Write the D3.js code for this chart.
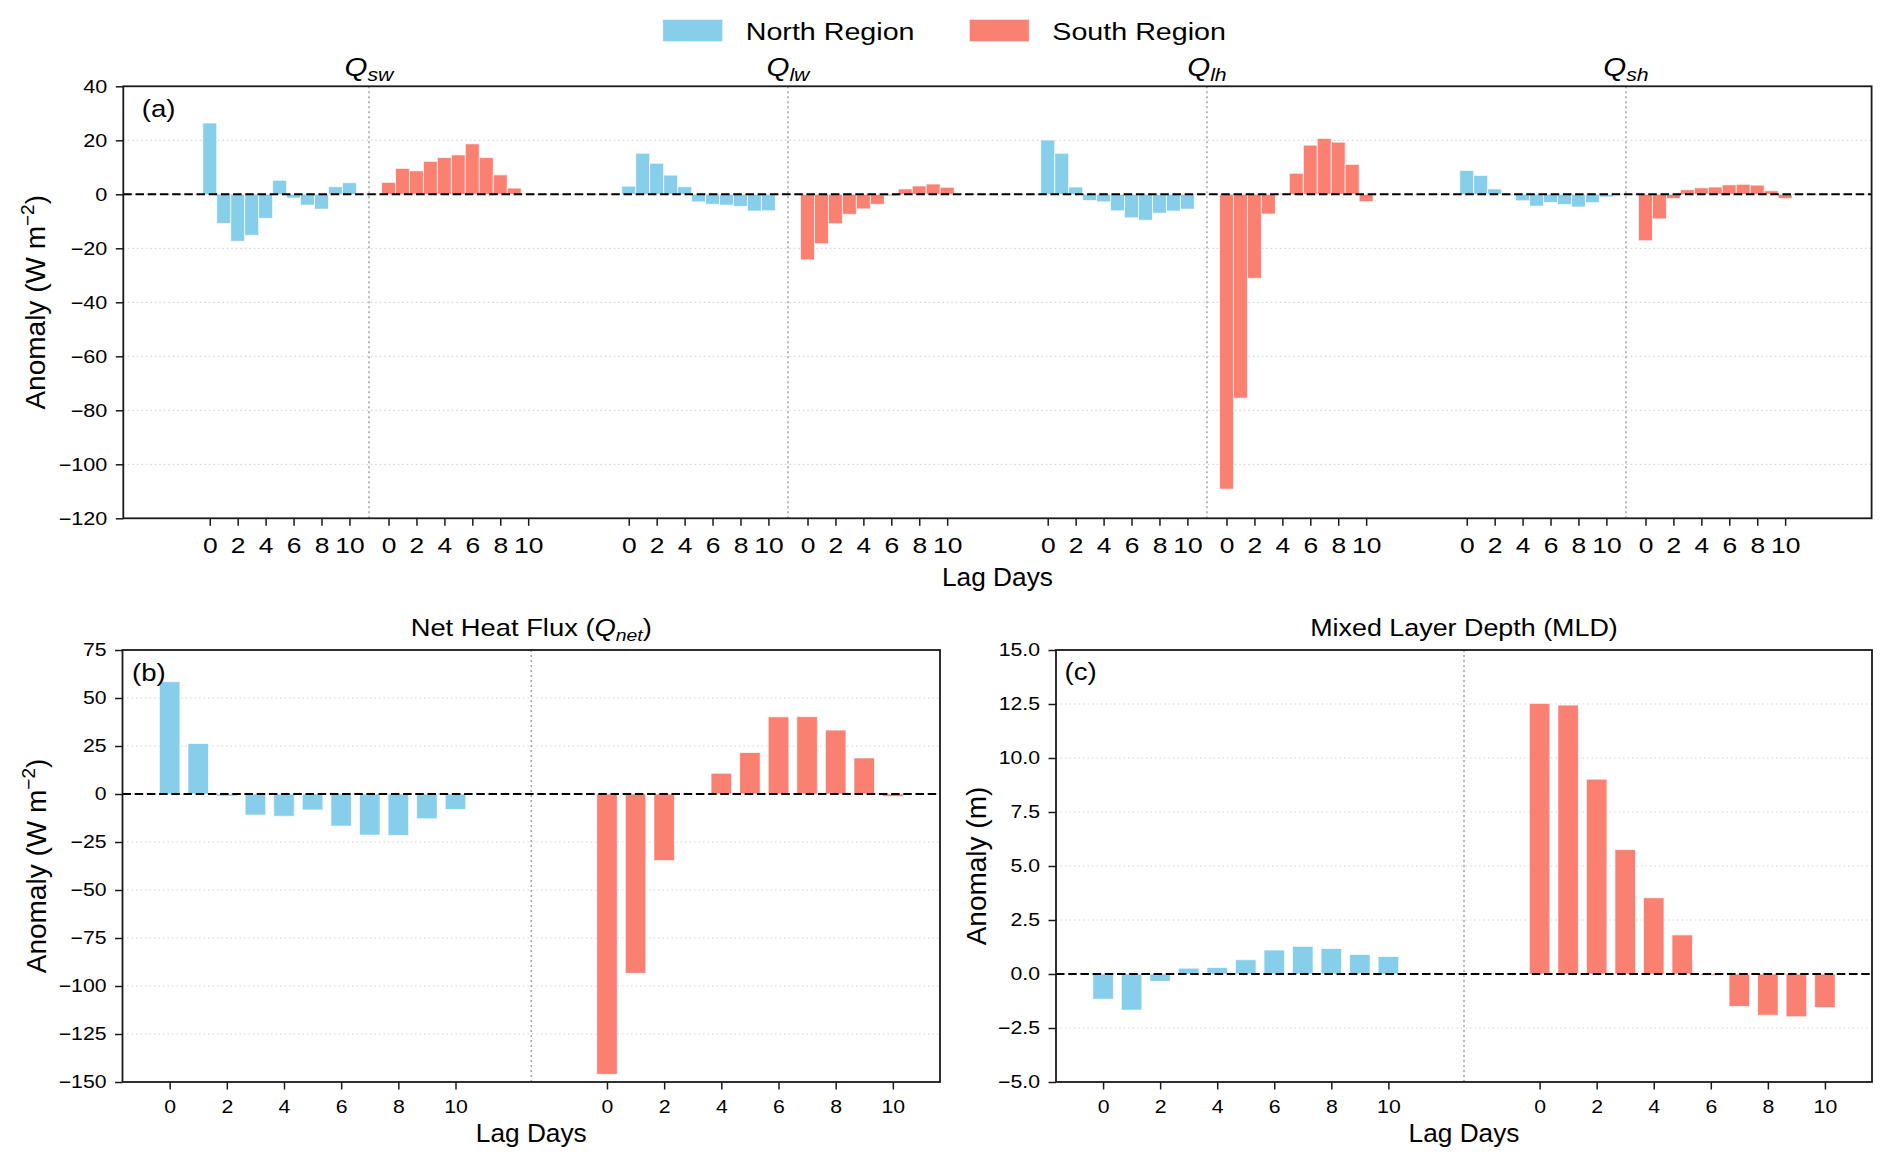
<!DOCTYPE html>
<html>
<head>
<meta charset="utf-8">
<script src="https://cdn.jsdelivr.net/npm/d3@7"></script>
<style>
  body { margin: 0; background: #fff; }
  svg { display: block; font-family: "Liberation Sans", Arial, sans-serif; }
</style>
</head>
<body>
<div id="chart"></div>
<script>
// lag days (same for every series)
var lags = [0, 1, 2, 3, 4, 5, 6, 7, 8, 9, 10];
var lagTicks = [0, 2, 4, 6, 8, 10];

// (a) heat flux components, W m-2
var fluxNames = ["sw", "lw", "lh", "sh"];
var qswNorth = [26.4, -10.8, -17.4, -15.2, -8.9, 5.2, -1.4, -4.0, -5.5, 2.8, 4.3];
var qswSouth = [4.4, 9.6, 8.7, 12.2, 13.6, 14.6, 18.7, 13.6, 7.2, 2.3, 0.3];
var qlwNorth = [3.0, 15.2, 11.5, 7.1, 2.8, -2.8, -3.7, -4.0, -4.5, -6.2, -6.1];
var qlwSouth = [-24.3, -18.3, -10.9, -7.4, -5.4, -3.7, -0.6, 2.0, 3.1, 3.8, 2.6];
var qlhNorth = [20.1, 15.2, 2.7, -2.3, -2.8, -6.1, -8.7, -9.6, -7.0, -6.2, -5.5];
var qlhSouth = [-109.2, -75.5, -31.1, -7.3, 0.4, 7.8, 18.2, 20.7, 19.3, 11.1, -2.7];
var qshNorth = [8.8, 7.0, 2.0, -0.4, -2.4, -4.4, -3.0, -3.8, -4.7, -3.1, -1.0];
var qshSouth = [-17.2, -9.1, -1.6, 1.7, 2.4, 2.7, 3.5, 3.7, 3.4, 1.3, -1.6];

// (b) net heat flux, W m-2
var qnetNorth = [58.5, 26.3, -1.1, -11.0, -11.6, -8.3, -16.7, -21.4, -21.6, -12.9, -8.1];
var qnetSouth = [-146.0, -93.4, -34.7, -0.3, 10.8, 21.6, 40.2, 40.3, 33.3, 18.8, -1.3];

// (c) mixed layer depth, m
var mldNorth = [-1.17, -1.67, -0.34, 0.27, 0.30, 0.66, 1.11, 1.28, 1.18, 0.90, 0.81];
var mldSouth = [12.53, 12.45, 9.02, 5.76, 3.53, 1.81, -0.07, -1.50, -1.91, -1.98, -1.55];

var fluxYTicks = [-120, -100, -80, -60, -40, -20, 0, 20, 40];
var netYTicks = [-150, -125, -100, -75, -50, -25, 0, 25, 50, 75];
var mldYTicks = [-5, -2.5, 0, 2.5, 5, 7.5, 10, 12.5, 15];

var fluxNorth = [qswNorth, qlwNorth, qlhNorth, qshNorth];
var fluxSouth = [qswSouth, qlwSouth, qlhSouth, qshSouth];

//Canvas size
var WIDTH = 1892, HEIGHT = 1169;
var BLUE = "#87CEEB", RED = "#FA8072", INK = "#1a1a1a";

// x offsets of the groups on the shared lag axis
var GROUP_STEP = 30, SOUTH_A = 12.8, SOUTH_BC = 15.3;

var svg = d3.select("#chart").append("svg")
    .attr("width", WIDTH)
    .attr("height", HEIGHT);

// horizontal text in the figure is a bit wider than Liberation Sans
function putText(sel, x, y, sx) {
  return sel.attr("x", 0).attr("y", 0)
    .attr("transform", "translate(" + x + "," + y + ") scale(" + sx + ",1)");
}

function drawPanel(p) {
  var x = d3.scaleLinear().domain(p.xDomain).range([p.box.left, p.box.right]);
  var y = d3.scaleLinear().domain(p.yDomain).range([p.box.bottom, p.box.top]);
  var g = svg.append("g");

  // dotted grid
  g.selectAll(".grid").data(p.yTicks).enter().append("line")
    .attr("x1", p.box.left).attr("x2", p.box.right)
    .attr("y1", function(d) { return y(d); })
    .attr("y2", function(d) { return y(d); })
    .attr("stroke", "#d6d6d6").attr("stroke-width", 1.2)
    .attr("stroke-dasharray", "1.5,3");

  // separators between north and south
  g.selectAll(".sep").data(p.separators).enter().append("line")
    .attr("x1", function(d) { return x(d); })
    .attr("x2", function(d) { return x(d); })
    .attr("y1", p.box.top).attr("y2", p.box.bottom)
    .attr("stroke", "#a8a8a8").attr("stroke-width", 1.6)
    .attr("stroke-dasharray", "2,3");

  g.selectAll(".bar").data(p.bars).enter().append("rect")
    .attr("x", function(d) { return x(d.pos - p.barWidth / 2); })
    .attr("width", function(d) { return x(d.pos + p.barWidth / 2) - x(d.pos - p.barWidth / 2); })
    .attr("y", function(d) { return y(Math.max(0, d.value)); })
    .attr("height", function(d) { return Math.abs(y(d.value) - y(0)); })
    .attr("fill", function(d) { return d.color; })
    .attr("stroke", "#ffffff").attr("stroke-opacity", 0.7).attr("stroke-width", 1);

  // zero line
  g.append("line")
    .attr("x1", p.box.left).attr("x2", p.box.right)
    .attr("y1", y(0)).attr("y2", y(0))
    .attr("stroke", "#000").attr("stroke-width", 2)
    .attr("stroke-dasharray", "8.5,3.7");

  // frame
  g.append("rect")
    .attr("x", p.box.left).attr("y", p.box.top)
    .attr("width", p.box.right - p.box.left).attr("height", p.box.bottom - p.box.top)
    .attr("fill", "none").attr("stroke", INK).attr("stroke-width", 1.8);

  var ya = g.append("g").attr("transform", "translate(" + p.box.left + ",0)")
    .call(d3.axisLeft(y).tickValues(p.yTicks).tickFormat(p.yFormat).tickSize(7.5).tickPadding(8));
  ya.select(".domain").remove();
  ya.attr("font-family", null).attr("font-size", p.yFont);
  ya.selectAll("line").attr("stroke", INK).attr("stroke-width", 1.5);
  ya.selectAll("text").attr("fill", "#000")
    .attr("x", -16 / p.sx).attr("transform", "scale(" + p.sx + ",1)");

  var xa = g.append("g").attr("transform", "translate(0," + p.box.bottom + ")")
    .call(d3.axisBottom(x)
      .tickValues(p.xTicks.map(function(d) { return d.pos; }))
      .tickFormat(function(d, i) { return p.xTicks[i].label; })
      .tickSize(7.5).tickPadding(p.xPad));
  xa.select(".domain").remove();
  xa.attr("font-family", null).attr("font-size", p.xFont);
  xa.selectAll("line").attr("stroke", INK).attr("stroke-width", 1.5);
  xa.selectAll("text").attr("fill", "#000").attr("transform", "scale(" + p.sx + ",1)");

  return {x: x, y: y};
}

function yLabel(cx, cy, unitSup) {
  var t = svg.append("text")
    .attr("transform", "translate(" + cx + "," + cy + ") rotate(-90)")
    .attr("text-anchor", "middle").attr("font-size", 28).attr("fill", "#000");
  if (unitSup) {
    t.append("tspan").text("Anomaly (W m");
    t.append("tspan").attr("font-size", 19).attr("dy", -11).text("\u22122");
    t.append("tspan").attr("dy", 11).text(")");
  } else {
    t.text("Anomaly (m)");
  }
}

function plainText(str, x, y, size, sx, anchor) {
  return putText(svg.append("text").attr("font-size", size).attr("fill", "#000")
    .attr("text-anchor", anchor || "start").text(str), x, y, sx);
}

// ---------- panel (a)
var boxA = {left: 123.3, right: 1871.6, top: 86.3, bottom: 518.3};
var lastA = GROUP_STEP * 3 + SOUTH_A + 10;
var padA = (lastA + 1) * 0.05;
var barsA = [], ticksA = [], sepA = [];
fluxNames.forEach(function(name, v) {
  var base = GROUP_STEP * v;
  lags.forEach(function(l, i) {
    barsA.push({pos: base + l, value: fluxNorth[v][i], color: BLUE});
    barsA.push({pos: base + SOUTH_A + l, value: fluxSouth[v][i], color: RED});
  });
  lagTicks.forEach(function(l) { ticksA.push({pos: base + l, label: String(l)}); });
  lagTicks.forEach(function(l) { ticksA.push({pos: base + SOUTH_A + l, label: String(l)}); });
  sepA.push(base + (10 + SOUTH_A) / 2);
});

var pa = drawPanel({
  box: boxA, xDomain: [-0.5 - padA, lastA + 0.5 + padA], yDomain: [-120, 40],
  yTicks: fluxYTicks, yFormat: d3.format("d"), bars: barsA, barWidth: 1,
  xTicks: ticksA, separators: sepA, yFont: 18, xFont: 22, sx: 1.2, xPad: 11.5
});

// component titles above the separators
sepA.forEach(function(s, v) {
  var t = svg.append("text").attr("font-size", 25).attr("font-style", "italic")
    .attr("text-anchor", "middle").attr("fill", "#000");
  t.append("tspan").text("Q");
  t.append("tspan").attr("font-size", 18).attr("dy", 5).text(fluxNames[v]);
  putText(t, pa.x(s), 76, 1.18);
});

plainText("(a)", 141.7, 116.6, 24, 1.15);
plainText("Lag Days", (boxA.left + boxA.right) / 2, 585.5, 25, 1.05, "middle");
yLabel(45, (boxA.top + boxA.bottom) / 2, true);

// ---------- panels (b) and (c)
var lastBC = SOUTH_BC + 10;
var padBC = (lastBC + 0.7) * 0.05;
var ticksBC = [];
lagTicks.forEach(function(l) { ticksBC.push({pos: l, label: String(l)}); });
lagTicks.forEach(function(l) { ticksBC.push({pos: SOUTH_BC + l, label: String(l)}); });

function barsBC(north, south) {
  var out = [];
  lags.forEach(function(l, i) {
    out.push({pos: l, value: north[i], color: BLUE});
    out.push({pos: SOUTH_BC + l, value: south[i], color: RED});
  });
  return out;
}

var boxB = {left: 122.5, right: 940, top: 650, bottom: 1082};
drawPanel({
  box: boxB, xDomain: [-0.35 - padBC, lastBC + 0.35 + padBC], yDomain: [-150, 75],
  yTicks: netYTicks, yFormat: d3.format("d"), bars: barsBC(qnetNorth, qnetSouth), barWidth: 0.72,
  xTicks: ticksBC, separators: [(10 + SOUTH_BC) / 2], yFont: 18, xFont: 18, sx: 1.18, xPad: 10.5
});

var boxC = {left: 1056, right: 1872, top: 650, bottom: 1082};
drawPanel({
  box: boxC, xDomain: [-0.35 - padBC, lastBC + 0.35 + padBC], yDomain: [-5, 15],
  yTicks: mldYTicks, yFormat: d3.format(".1f"), bars: barsBC(mldNorth, mldSouth), barWidth: 0.72,
  xTicks: ticksBC, separators: [(10 + SOUTH_BC) / 2], yFont: 18, xFont: 18, sx: 1.18, xPad: 10.5
});

// titles of (b) and (c)
var tb = svg.append("text").attr("font-size", 24).attr("text-anchor", "middle").attr("fill", "#000");
tb.append("tspan").text("Net Heat Flux (");
tb.append("tspan").attr("font-style", "italic").text("Q");
tb.append("tspan").attr("font-style", "italic").attr("font-size", 17).attr("dy", 5).text("net");
tb.append("tspan").attr("dy", -5).text(")");
putText(tb, (boxB.left + boxB.right) / 2, 636, 1.14);
plainText("Mixed Layer Depth (MLD)", (boxC.left + boxC.right) / 2, 636, 24, 1.12, "middle");

plainText("(b)", 132, 681, 24, 1.15);
plainText("(c)", 1064.5, 680, 24, 1.15);
plainText("Lag Days", (boxB.left + boxB.right) / 2, 1142, 25, 1.05, "middle");
plainText("Lag Days", (boxC.left + boxC.right) / 2, 1142, 25, 1.05, "middle");
yLabel(46, (boxB.top + boxB.bottom) / 2, true);
yLabel(986, (boxC.top + boxC.bottom) / 2, false);

// ---------- legend
var legend = [{name: "North Region", color: BLUE, x: 662.7}, {name: "South Region", color: RED, x: 969.3}];
legend.forEach(function(d) {
  svg.append("rect").attr("x", d.x).attr("y", 19.3).attr("width", 60).attr("height", 22.4)
    .attr("fill", d.color).attr("stroke", "#fff").attr("stroke-opacity", 0.7);
  plainText(d.name, d.x + 83, 40, 24.5, 1.17);
});
</script>
</body>
</html>
